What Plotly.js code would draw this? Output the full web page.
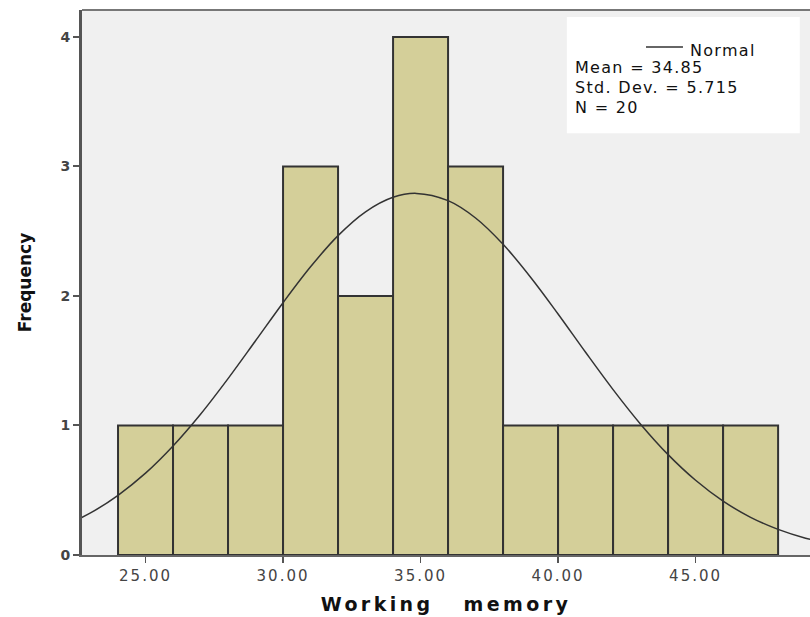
<!DOCTYPE html>
<html>
<head>
<meta charset="utf-8">
<script src="https://cdn.plot.ly/plotly-3.0.1.min.js"></script>
<style>
  body { margin: 0; padding: 0; background: #ffffff; }
  #chart { width: 810px; height: 617px; }
  .xtick text { letter-spacing: 2px; }
  .g-xtitle text { letter-spacing: 3.4px; }
  .annotation-text { letter-spacing: 1.3px; }
</style>
</head>
<body>
<div id="chart"></div>
<script>
// Histogram bins (left edges), bin width and frequencies
const binStarts = [24, 26, 28, 30, 32, 34, 36, 38, 40, 42, 44, 46];
const binWidth = 2;
const frequencies = [1, 1, 1, 3, 2, 4, 3, 1, 1, 1, 1, 1];

// Normal curve points
const curveX = [22, 23, 24, 25, 26, 27, 28, 29, 30, 31, 32, 33, 34, 34.85, 36, 37, 38, 39, 40, 41, 42, 43, 44, 45, 46, 47, 48, 49, 50];
const curveY = [0.223, 0.325, 0.461, 0.632, 0.842, 1.087, 1.362, 1.654, 1.948, 2.225, 2.466, 2.650, 2.762, 2.792, 2.736, 2.602, 2.399, 2.145, 1.861, 1.565, 1.277, 1.010, 0.775, 0.577, 0.416, 0.291, 0.198, 0.130, 0.083];

// Axis ticks
const xTickVals = [25, 30, 35, 40, 45];
const xTickText = ["25.00", "30.00", "35.00", "40.00", "45.00"];
const yTickVals = [0, 1, 2, 3, 4];
const yTickText = ["0", "1", "2", "3", "4"];

// Summary statistics
const legendLines = ["Mean = 34.85", "Std. Dev. = 5.715", "N = 20"];
const curveName = "Normal";

const binCenters = binStarts.map(s => s + binWidth / 2);

const traces = [
  {
    type: 'bar',
    x: binCenters,
    y: frequencies,
    width: binStarts.map(() => binWidth),
    marker: { color: '#d4cf99', line: { color: '#333333', width: 2 } },
    hoverinfo: 'x+y'
  },
  {
    type: 'scatter',
    mode: 'lines',
    x: curveX,
    y: curveY,
    line: { color: '#333333', width: 1.5, shape: 'spline' },
    name: curveName,
    hoverinfo: 'skip'
  }
];

const statFont = { family: 'DejaVu Sans, sans-serif', size: 16, color: '#111111' };
const annotations = [
  { xref: 'paper', yref: 'paper', x: 0.8324, y: 0.926, xanchor: 'left', yanchor: 'middle',
    text: curveName, showarrow: false, font: statFont },
  { xref: 'paper', yref: 'paper', x: 0.6745, y: 0.8936, xanchor: 'left', yanchor: 'middle',
    text: legendLines[0], showarrow: false, font: statFont },
  { xref: 'paper', yref: 'paper', x: 0.6745, y: 0.8587, xanchor: 'left', yanchor: 'middle',
    text: legendLines[1], showarrow: false, font: statFont },
  { xref: 'paper', yref: 'paper', x: 0.6745, y: 0.822, xanchor: 'left', yanchor: 'middle',
    text: legendLines[2], showarrow: false, font: statFont }
];

const shapes = [
  // top border of plot area
  { type: 'line', xref: 'paper', yref: 'paper', x0: 0, x1: 1, y0: 1, y1: 1,
    line: { color: '#777777', width: 2 } },
  // legend box
  { type: 'rect', xref: 'paper', yref: 'paper', x0: 0.666, x1: 0.986, y0: 0.774, y1: 0.987,
    fillcolor: '#ffffff', line: { width: 0 }, layer: 'below' },
  // legend line sample
  { type: 'line', xref: 'paper', yref: 'paper', x0: 0.7747, x1: 0.8255, y0: 0.932, y1: 0.932,
    line: { color: '#333333', width: 1.5 } }
];

const layout = {
  width: 810,
  height: 617,
  margin: { l: 82, r: 0, t: 10, b: 62, pad: 0 },
  paper_bgcolor: '#ffffff',
  plot_bgcolor: '#f0f0f0',
  showlegend: false,
  bargap: 0,
  xaxis: {
    range: [22.69, 49.16],
    tickvals: xTickVals,
    ticktext: xTickText,
    ticks: 'outside',
    ticklen: 6,
    tickwidth: 1.5,
    tickcolor: '#555555',
    showline: true,
    linecolor: '#666666',
    linewidth: 2,
    showgrid: false,
    zeroline: false,
    tickfont: { family: 'DejaVu Sans, sans-serif', size: 15, color: '#444444' },
    title: { text: 'Working\u00a0\u00a0\u00a0memory', standoff: 14,
             font: { family: 'DejaVu Sans, sans-serif', size: 19, color: '#111111', weight: 'bold' } }
  },
  yaxis: {
    range: [0, 4.208],
    tickvals: yTickVals,
    ticktext: yTickText,
    ticks: 'outside',
    ticklen: 6,
    tickwidth: 2,
    tickcolor: '#555555',
    showline: true,
    linecolor: '#555555',
    linewidth: 3,
    showgrid: false,
    zeroline: false,
    tickfont: { family: 'DejaVu Sans, sans-serif', size: 14, color: '#444444', weight: 'bold' },
    title: { text: 'Frequency', standoff: 25,
             font: { family: 'DejaVu Sans, sans-serif', size: 17, color: '#111111', weight: 'bold' } }
  },
  shapes: shapes,
  annotations: annotations
};

Plotly.newPlot('chart', traces, layout, { displayModeBar: false, staticPlot: true });
</script>
</body>
</html>
